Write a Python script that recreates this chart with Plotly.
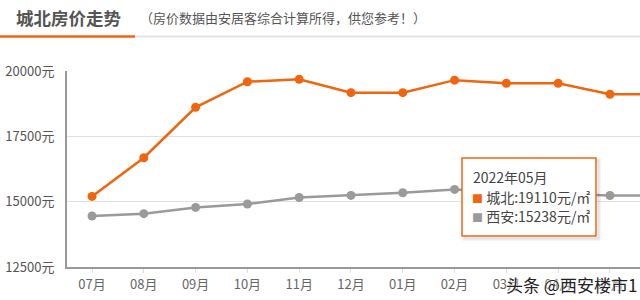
import plotly.graph_objects as go

months = ["07月", "08月", "09月", "10月", "11月", "12月", "01月", "02月", "03月", "04月", "05月", "06月"]
chengbei = [15200, 16680, 18610, 19590, 19680, 19170, 19170, 19650, 19530, 19530, 19110, 19110]
xian = [14450, 14540, 14780, 14910, 15160, 15240, 15340, 15470, 15400, 15300, 15238, 15240]
y_ticks = [12500, 15000, 17500, 20000]

ORANGE = "#f0650e"
GRAY = "#9a9a9a"
FONT = "Noto Sans CJK SC"

idx = list(range(len(months)))

fig = go.Figure()
fig.add_trace(go.Scatter(x=idx, y=xian, mode="lines+markers", name="西安",
                         line=dict(color=GRAY, width=2.5),
                         marker=dict(color=GRAY, size=9), cliponaxis=True))
fig.add_trace(go.Scatter(x=idx, y=chengbei, mode="lines+markers", name="城北",
                         line=dict(color=ORANGE, width=2.5),
                         marker=dict(color=ORANGE, size=9), cliponaxis=True))

L, T, B, W, H = 67, 71, 33, 640, 300
pw = W - L
ph = H - T - B


def px(x):
    return (x - L) / pw


def py(y):
    return (H - B - y) / ph


fig.update_layout(
    width=W, height=H,
    margin=dict(l=L, r=0, t=T, b=B, pad=0),
    paper_bgcolor="white", plot_bgcolor="white",
    showlegend=False,
    font=dict(family=FONT, color="#555", size=13),
    xaxis=dict(range=[-0.483, 10.58], tickmode="array", tickvals=idx, ticktext=months,
               showgrid=False, zeroline=False, showline=True, linecolor="#999", linewidth=2,
               ticks="outside", ticklen=4, tickcolor="#ddd", tickfont=dict(size=13, color="#666")),
    yaxis=dict(range=[12500, 20000], tickmode="array", tickvals=y_ticks,
               ticktext=[f"{v}元" for v in y_ticks],
               showgrid=True, gridcolor="#e0e0e0", gridwidth=1, zeroline=False,
               showline=True, linecolor="#999", linewidth=2, ticks="", ticklabelstandoff=8,
               tickfont=dict(size=13, color="#555")),
)

# header lines
fig.add_shape(type="line", xref="paper", yref="paper", x0=px(135), x1=px(640), y0=py(36.5), y1=py(36.5),
              line=dict(color="#e3e3e3", width=2))
fig.add_shape(type="line", xref="paper", yref="paper", x0=px(0), x1=px(135), y0=py(36.5), y1=py(36.5),
              line=dict(color=ORANGE, width=2.5))

fig.add_annotation(text="<b>城北房价走势</b>", xref="paper", yref="paper", x=px(14), y=py(18),
                   xanchor="left", yanchor="middle", showarrow=False,
                   font=dict(size=17.5, color="#555", family=FONT))
fig.add_annotation(text="（房价数据由安居客综合计算所得，供您参考！）", xref="paper", yref="paper",
                   x=px(138), y=py(18), xanchor="left", yanchor="middle", showarrow=False,
                   font=dict(size=13, color="#555", family=FONT))

# tooltip box
fig.add_shape(type="rect", xref="paper", yref="paper", x0=px(464), x1=px(599), y0=py(239), y1=py(160),
              line=dict(color="rgba(0,0,0,0.08)", width=3), fillcolor="rgba(0,0,0,0.04)")
fig.add_shape(type="rect", xref="paper", yref="paper", x0=px(462), x1=px(596), y0=py(236), y1=py(158),
              line=dict(color=ORANGE, width=1.5), fillcolor="white")
fig.add_annotation(text="2022年05月", xref="paper", yref="paper", x=px(471), y=py(177),
                   xanchor="left", yanchor="middle", showarrow=False,
                   font=dict(size=14, color="#444", family=FONT))
fig.add_annotation(text=f"<span style='color:{ORANGE};font-size:11px'>■</span> 城北:{chengbei[10]}元/㎡",
                   xref="paper", yref="paper", x=px(470), y=py(197),
                   xanchor="left", yanchor="middle", showarrow=False,
                   font=dict(size=14, color="#444", family=FONT))
fig.add_annotation(text=f"<span style='color:{GRAY};font-size:11px'>■</span> 西安:{xian[10]}元/㎡",
                   xref="paper", yref="paper", x=px(470), y=py(216),
                   xanchor="left", yanchor="middle", showarrow=False,
                   font=dict(size=14, color="#444", family=FONT))

# watermark
fig.add_annotation(text="头条 @西安楼市1", xref="paper", yref="paper", x=px(504), y=py(284),
                   xanchor="left", yanchor="middle", showarrow=False,
                   font=dict(size=17, color="#222", family=FONT,
                             shadow="0 0 2px white, 0 0 3px white"))

fig.write_html("out.html")
